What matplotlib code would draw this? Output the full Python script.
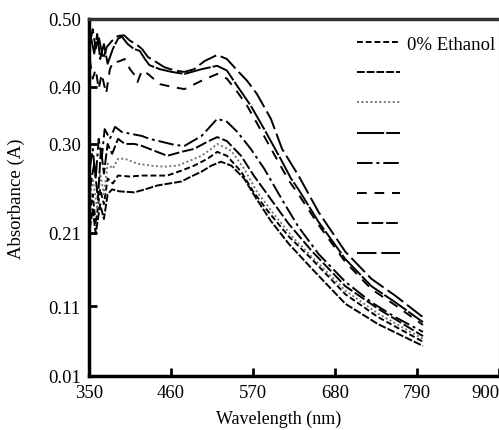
import numpy as np
import matplotlib
matplotlib.use('Agg')
import matplotlib.pyplot as plt

# === DADOS ===
# eixo y do original não é linear: os rótulos ficam nestas alturas
y_ticks = [0.01, 0.11, 0.21, 0.30, 0.40, 0.50]
x_ticks = [350, 460, 570, 680, 790, 900]

wl_u1 = [351, 355, 359, 363, 369, 374, 381, 389, 397, 405, 413, 421, 429, 438, 451, 465,
         478, 491, 505, 522, 535, 549, 562, 575, 594, 609, 631, 658, 694, 729, 761, 798]
abs_u1 = [0.463, 0.485, 0.456, 0.474, 0.441, 0.459, 0.468, 0.475, 0.476, 0.468, 0.463, 0.456,
          0.444, 0.438, 0.429, 0.424, 0.422, 0.426, 0.438, 0.447, 0.441, 0.424, 0.409, 0.388,
          0.344, 0.295, 0.268, 0.231, 0.184, 0.147, 0.124, 0.094]

wl_u2 = [353, 357, 361, 365, 370, 375, 382, 389, 394, 402, 410, 418, 425, 431, 445, 461,
         478, 501, 522, 535, 549, 567, 585, 607, 621, 631, 658, 694, 729, 761, 798]
abs_u2 = [0.471, 0.449, 0.478, 0.441, 0.463, 0.434, 0.456, 0.471, 0.474, 0.463, 0.456, 0.453,
          0.441, 0.432, 0.426, 0.422, 0.419, 0.426, 0.431, 0.424, 0.401, 0.367, 0.326, 0.285,
          0.265, 0.254, 0.221, 0.174, 0.137, 0.115, 0.087]

wl_u3 = [351, 355, 359, 363, 367, 373, 378, 383, 389, 398, 405, 410, 415, 421, 429, 445,
         461, 478, 501, 522, 535, 549, 562, 578, 598, 618, 631, 658, 694, 729, 761, 798]
abs_u3 = [0.441, 0.412, 0.426, 0.396, 0.419, 0.388, 0.426, 0.438, 0.437, 0.441, 0.426, 0.419,
          0.407, 0.424, 0.419, 0.404, 0.400, 0.396, 0.409, 0.419, 0.412, 0.391, 0.367, 0.330,
          0.290, 0.263, 0.249, 0.218, 0.170, 0.133, 0.111, 0.083]

wl_l1 = [351, 355, 359, 363, 367, 371, 378, 385, 394, 405, 421, 431, 447, 465, 478, 501,
         522, 535, 549, 567, 585, 611, 631, 658, 694, 729, 761, 798]
abs_l1 = [0.275, 0.295, 0.265, 0.309, 0.285, 0.326, 0.309, 0.330, 0.321, 0.318, 0.314, 0.309,
          0.304, 0.299, 0.298, 0.314, 0.344, 0.339, 0.321, 0.295, 0.275, 0.241, 0.216, 0.181,
          0.143, 0.115, 0.094, 0.073]

wl_l2 = [351, 357, 362, 366, 370, 375, 381, 389, 398, 411, 421, 438, 455, 474, 491, 509,
         522, 535, 554, 571, 594, 618, 649, 694, 738, 798]
abs_l2 = [0.254, 0.280, 0.244, 0.295, 0.270, 0.300, 0.290, 0.309, 0.300, 0.300, 0.298, 0.293,
          0.288, 0.292, 0.295, 0.304, 0.312, 0.305, 0.288, 0.268, 0.244, 0.219, 0.185, 0.137,
          0.106, 0.067]

wl_l3 = [351, 355, 361, 365, 370, 375, 382, 389, 398, 415, 434, 451, 469, 485, 501, 514,
         522, 531, 541, 558, 575, 598, 625, 658, 694, 738, 798]
abs_l3 = [0.244, 0.265, 0.234, 0.270, 0.249, 0.280, 0.275, 0.285, 0.285, 0.280, 0.278, 0.277,
          0.278, 0.283, 0.288, 0.295, 0.300, 0.297, 0.293, 0.275, 0.252, 0.229, 0.202, 0.168,
          0.131, 0.099, 0.063]

wl_l4 = [351, 355, 359, 365, 370, 375, 382, 389, 405, 421, 438, 455, 474, 491, 509, 522,
         535, 554, 571, 591, 618, 649, 694, 738, 798]
abs_l4 = [0.229, 0.249, 0.219, 0.254, 0.239, 0.265, 0.260, 0.268, 0.267, 0.268, 0.268, 0.268,
          0.273, 0.278, 0.285, 0.292, 0.288, 0.272, 0.251, 0.231, 0.205, 0.174, 0.126, 0.094,
          0.059]

wl_l5 = [351, 355, 359, 365, 370, 375, 381, 391, 411, 425, 442, 458, 474, 487, 501, 514,
         527, 541, 558, 575, 594, 618, 649, 694, 738, 798]
abs_l5 = [0.214, 0.234, 0.209, 0.239, 0.224, 0.249, 0.254, 0.252, 0.251, 0.254, 0.258, 0.260,
          0.262, 0.267, 0.272, 0.278, 0.282, 0.278, 0.265, 0.244, 0.222, 0.195, 0.161, 0.113,
          0.084, 0.053]

legend_labels = ['0% Ethanol', ' ', ' ', ' ', ' ', ' ', ' ', ' ']

# === ESCALA Y (posição relativa de cada rótulo no eixo original) ===
y_frac = [0.0, 0.196, 0.401, 0.650, 0.810, 1.0]

def fwd(v):
    return np.interp(v, y_ticks, y_frac)

def inv(p):
    return np.interp(p, y_frac, y_ticks)

plt.rcParams['font.family'] = ['Liberation Serif', 'DejaVu Serif']

fig = plt.figure(figsize=(4.99, 4.31), dpi=100)
ax = fig.add_axes([89 / 499, 54 / 431, 410 / 499, 357 / 431])
ax.set_yscale('function', functions=(fwd, inv))

# (curva, estilo) na ordem da legenda
series = [
    (wl_l4, abs_l4, dict(color='black', dashes=(3, 1.5))),
    (wl_l5, abs_l5, dict(color='black', dashes=(4, 1))),
    (wl_l3, abs_l3, dict(color='0.45', dashes=(1, 1.3))),
    (wl_u2, abs_u2, dict(color='black', dashes=(14, 1))),
    (wl_l1, abs_l1, dict(color='black', dashes=(8, 2, 1.5, 2))),
    (wl_u3, abs_u3, dict(color='black', dashes=(5, 4))),
    (wl_l2, abs_l2, dict(color='black', dashes=(6, 1.5))),
    (wl_u1, abs_u1, dict(color='black', dashes=(10, 2.5))),
]

handles = []
for wl, ab, st in series:
    ln, = ax.plot(wl, ab, lw=1.4, **st)
    handles.append(ln)

ax.set_xlim(350, 900)
ax.set_ylim(0.01, 0.50)
ax.set_xticks(x_ticks)
ax.set_yticks(y_ticks)
ax.set_yticklabels([f'{v:.2f}' for v in y_ticks])
ax.tick_params(direction='in', length=6, width=2, labelsize=13.5, pad=6)
ax.get_xticklabels()[-1].set_horizontalalignment('right')

for s in ['left', 'bottom', 'top']:
    ax.spines[s].set_linewidth(2.5)
ax.spines['top'].set_color('0.2')
ax.spines['right'].set_linewidth(0.8)
ax.spines['right'].set_color('0.6')

ax.set_xlabel('Wavelength (nm)', fontsize=13)
ax.set_ylabel('Absorbance (A)', fontsize=13.5)
ax.xaxis.set_label_coords(0.463, -0.095)
ax.yaxis.set_label_coords(-0.155, 0.5)

ax.legend(handles, legend_labels, loc='upper left', bbox_to_anchor=(0.654, 0.953),
          frameon=False, fontsize=13.5, handlelength=2.3, handletextpad=0.37,
          labelspacing=0.69, borderpad=0, borderaxespad=0)

plt.savefig('out.png', dpi=100)
